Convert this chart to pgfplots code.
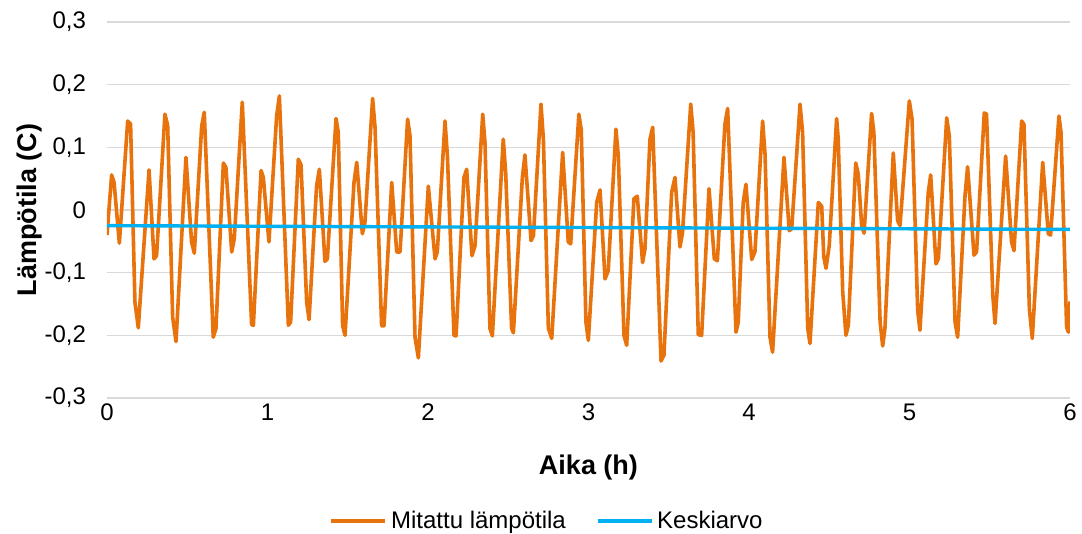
\documentclass[border=0pt]{standalone}
\usepackage{fontspec}
\setmainfont{Liberation Sans}
\usepackage{pgfplots}
\pgfplotsset{compat=1.18}
\definecolor{orangeL}{RGB}{232,114,12}
\definecolor{blueL}{RGB}{0,176,240}
\definecolor{gridc}{RGB}{217,217,217}
\begin{document}
\begin{tikzpicture}
\begin{axis}[
  at={(0,0)}, anchor=south west,
  scale only axis, width=481.5pt, height=188pt,
  xmin=0, xmax=6, ymin=-0.3, ymax=0.3,
  xtick={0,1,2,3,4,5,6}, ytick={-0.3,-0.2,-0.1,0,0.1,0.2,0.3},
  axis line style={draw=none}, major tick length=0pt,
  ymajorgrids, grid style={gridc, line width=0.8pt},
  /pgf/number format/fixed, /pgf/number format/precision=1,
  /pgf/number format/use comma, /pgf/number format/assume math mode=true,
  tick label style={font=\fontsize{12}{14}\selectfont},
  yticklabel style={xshift=-7pt},
  xticklabel style={yshift=0.5pt},
  xlabel={Aika (h)}, ylabel={Lämpötila (C)},
  every axis x label/.style={at={(axis description cs:0.5,-0.185)}, anchor=center, font=\fontsize{13.5}{16}\selectfont\bfseries},
  every axis y label/.style={at={(axis description cs:-0.08,0.5)}, rotate=90, anchor=center, font=\fontsize{13.5}{16}\selectfont\bfseries},
  legend style={at={(axis description cs:0.458,-0.327)}, anchor=center, draw=none, fill=none, font=\fontsize{12}{14}\selectfont, legend columns=2, /tikz/every even column/.append style={column sep=13pt}},
  legend image code/.code={\draw[#1] (0pt,0pt) -- (27pt,0pt);},
]
\addplot[orangeL, line width=1.8pt, line join=round] coordinates {
(0.000,-0.040) (0.029,0.056) (0.044,0.044) (0.077,-0.053) (0.129,0.142) (0.147,0.137)
(0.174,-0.147) (0.195,-0.188) (0.262,0.064) (0.293,-0.078) (0.309,-0.073) (0.361,0.153)
(0.378,0.135) (0.409,-0.171) (0.430,-0.210) (0.492,0.084) (0.527,-0.051) (0.544,-0.069)
(0.590,0.134) (0.606,0.156) (0.662,-0.203) (0.679,-0.189) (0.725,0.075) (0.741,0.068)
(0.777,-0.067) (0.793,-0.046) (0.843,0.172) (0.901,-0.183) (0.912,-0.184) (0.960,0.063)
(0.974,0.052) (1.009,-0.051) (1.057,0.150) (1.074,0.182) (1.130,-0.184) (1.144,-0.179)
(1.192,0.081) (1.209,0.072) (1.244,-0.147) (1.259,-0.175) (1.306,0.039) (1.323,0.065)
(1.358,-0.082) (1.373,-0.078) (1.427,0.146) (1.441,0.124) (1.468,-0.184) (1.483,-0.200)
(1.539,0.044) (1.556,0.076) (1.591,-0.038) (1.607,-0.020) (1.655,0.178) (1.670,0.132)
(1.711,-0.185) (1.726,-0.185) (1.774,0.044) (1.805,-0.067) (1.826,-0.067) (1.873,0.145)
(1.888,0.118) (1.919,-0.203) (1.940,-0.236) (2.002,0.038) (2.044,-0.078) (2.058,-0.067)
(2.106,0.142) (2.121,0.086) (2.162,-0.200) (2.175,-0.201) (2.224,0.052) (2.241,0.065)
(2.274,-0.073) (2.293,-0.057) (2.341,0.153) (2.355,0.108) (2.386,-0.189) (2.401,-0.201)
(2.469,0.113) (2.484,0.060) (2.521,-0.189) (2.532,-0.196) (2.588,0.052) (2.604,0.088)
(2.642,-0.049) (2.657,-0.041) (2.704,0.169) (2.719,0.113) (2.750,-0.189) (2.771,-0.205)
(2.839,0.092) (2.874,-0.051) (2.889,-0.054) (2.940,0.153) (2.955,0.128) (2.984,-0.179)
(2.999,-0.208) (3.051,0.012) (3.072,0.032) (3.103,-0.110) (3.123,-0.097) (3.171,0.129)
(3.186,0.086) (3.221,-0.200) (3.238,-0.216) (3.283,0.018) (3.304,0.022) (3.337,-0.084)
(3.352,-0.062) (3.383,0.113) (3.400,0.132) (3.452,-0.241) (3.470,-0.232) (3.518,0.028)
(3.539,0.052) (3.570,-0.059) (3.586,-0.036) (3.637,0.169) (3.652,0.124) (3.684,-0.199)
(3.705,-0.200) (3.751,0.034) (3.784,-0.078) (3.803,-0.081) (3.850,0.137) (3.867,0.162)
(3.919,-0.195) (3.933,-0.179) (3.964,0.012) (3.981,0.041) (4.017,-0.079) (4.037,-0.067)
(4.085,0.142) (4.100,0.089) (4.131,-0.203) (4.147,-0.227) (4.218,0.084) (4.251,-0.033)
(4.266,-0.030) (4.318,0.169) (4.334,0.124) (4.366,-0.189) (4.380,-0.213) (4.432,0.012)
(4.453,0.006) (4.466,-0.075) (4.480,-0.093) (4.500,-0.057) (4.546,0.146) (4.556,0.113)
(4.584,-0.131) (4.604,-0.200) (4.619,-0.184) (4.665,0.075) (4.681,0.057) (4.702,-0.025)
(4.717,-0.037) (4.764,0.154) (4.778,0.124) (4.817,-0.179) (4.833,-0.217) (4.847,-0.189)
(4.899,0.091) (4.926,-0.017) (4.941,-0.025) (4.999,0.174) (5.016,0.145) (5.051,-0.160)
(5.065,-0.192) (5.117,0.028) (5.132,0.056) (5.165,-0.086) (5.180,-0.078) (5.232,0.147)
(5.248,0.118) (5.284,-0.179) (5.300,-0.203) (5.346,0.023) (5.362,0.069) (5.402,-0.072)
(5.418,-0.067) (5.466,0.155) (5.480,0.153) (5.519,-0.136) (5.533,-0.181) (5.599,0.086)
(5.636,-0.051) (5.651,-0.065) (5.699,0.142) (5.713,0.137) (5.747,-0.158) (5.765,-0.205)
(5.830,0.076) (5.865,-0.038) (5.879,-0.040) (5.931,0.150) (5.944,0.124) (5.979,-0.187)
(5.990,-0.195) (6.000,-0.146)
};
\addlegendentry{Mitattu lämpötila}
\addplot[blueL, line width=1.7pt] coordinates {(0,-0.025) (6,-0.031)};
\addlegendentry{Keskiarvo}
\end{axis}
\pgfresetboundingbox
\useasboundingbox (-53.5pt,-68pt) rectangle (487.5pt,199pt);
\end{tikzpicture}
\end{document}
